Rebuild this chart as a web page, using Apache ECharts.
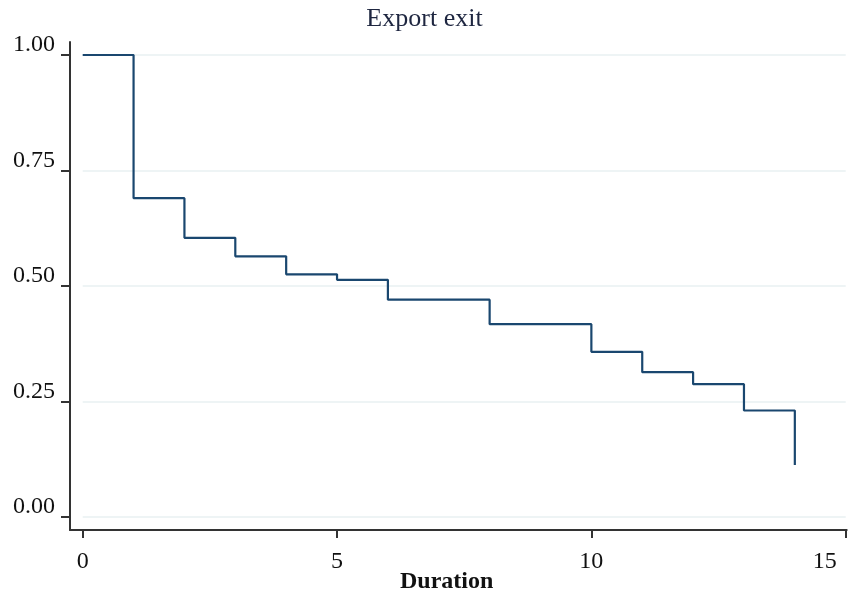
<!DOCTYPE html>
<html>
<head>
<meta charset="utf-8">
<script src="https://cdn.jsdelivr.net/npm/echarts@6/dist/echarts.min.js"></script>
<style>html,body{margin:0;padding:0;background:#fff;}#c{width:849px;height:594px;}</style>
</head>
<body>
<div id="c"></div>
<script>
var durations = [0, 1, 2, 3, 4, 5, 6, 8, 10, 11, 12, 13, 14];
var survival = [1.0, 0.690, 0.604, 0.564, 0.525, 0.513, 0.470, 0.417, 0.357, 0.313, 0.287, 0.230, 0.112];
var xTicks = [0, 5, 10, 15];
var yTicks = [0, 0.25, 0.5, 0.75, 1];
var yTickLabels = ['0.00', '0.25', '0.50', '0.75', '1.00'];

var data = durations.map(function (d, i) { return [d, survival[i]]; });
var serif = '"Liberation Serif", "DejaVu Serif", serif';

// outer frame extends slightly beyond the data range (Stata-style)
var xLo = -0.2497, xHi = 15.02;
var yLo = -0.0288, yHi = 1.0282;

var chart = echarts.init(document.getElementById('c'), null, {renderer: 'canvas'});
chart.setOption({
  animation: false,
  backgroundColor: '#ffffff',
  title: [
    {text: 'Export exit', left: 'center', top: 6, padding: 0,
     textStyle: {fontFamily: serif, fontSize: 26, fontWeight: 'normal', color: '#1e2640'}},
    {text: 'Duration', left: 400, top: 570, padding: 0,
     textStyle: {fontFamily: serif, fontSize: 24, fontWeight: 'bold', color: '#111'}}
  ],
  grid: [
    {left: 82.7, right: 3.3, top: 55, bottom: 77.3, containLabel: false, outerBoundsMode: 'none'},
    {left: 70, right: 2.3, top: 42, bottom: 64, containLabel: false, outerBoundsMode: 'none'}
  ],
  xAxis: [
    {type: 'value', gridIndex: 0, min: xTicks[0], max: xTicks[xTicks.length - 1], interval: 5,
     axisLine: {show: false}, axisTick: {show: false}, axisLabel: {show: false},
     splitLine: {show: false}},
    {type: 'value', gridIndex: 1, min: xLo, max: xHi,
     axisLine: {show: true, onZero: false, lineStyle: {color: '#333', width: 2}},
     axisTick: {show: true, inside: false, length: 8, customValues: xTicks,
       lineStyle: {color: '#333', width: 2}},
     axisLabel: {show: true, margin: 20, customValues: xTicks,
       fontFamily: serif, fontSize: 24, color: '#111',
       formatter: function (v) {
         return v === xTicks[xTicks.length - 1] ? '{last|' + v + '}' : String(v);
       },
       rich: {last: {fontFamily: serif, fontSize: 24, color: '#111', padding: [0, 42, 0, 0]}}},
     splitLine: {show: false}}
  ],
  yAxis: [
    {type: 'value', gridIndex: 0, min: 0, max: 1, interval: 0.25,
     axisLine: {show: false}, axisTick: {show: false}, axisLabel: {show: false},
     splitLine: {show: true, lineStyle: {color: '#e9f0f2', width: 1.5}}},
    {type: 'value', gridIndex: 1, min: yLo, max: yHi,
     axisLine: {show: true, onZero: false, lineStyle: {color: '#333', width: 2}},
     axisTick: {show: true, inside: false, length: 9, customValues: yTicks,
       lineStyle: {color: '#333', width: 2}},
     axisLabel: {show: true, margin: 15, customValues: yTicks,
       fontFamily: serif, fontSize: 24, color: '#111',
       verticalAlign: 'bottom', lineHeight: 20,
       formatter: function (v) { return yTickLabels[Math.round(v / 0.25)]; }},
     splitLine: {show: false}}
  ],
  series: [{
    type: 'line', xAxisIndex: 0, yAxisIndex: 0,
    step: 'end', data: data, showSymbol: false, symbol: 'none',
    lineStyle: {color: '#1a476f', width: 2.2}
  }]
});
</script>
</body>
</html>
